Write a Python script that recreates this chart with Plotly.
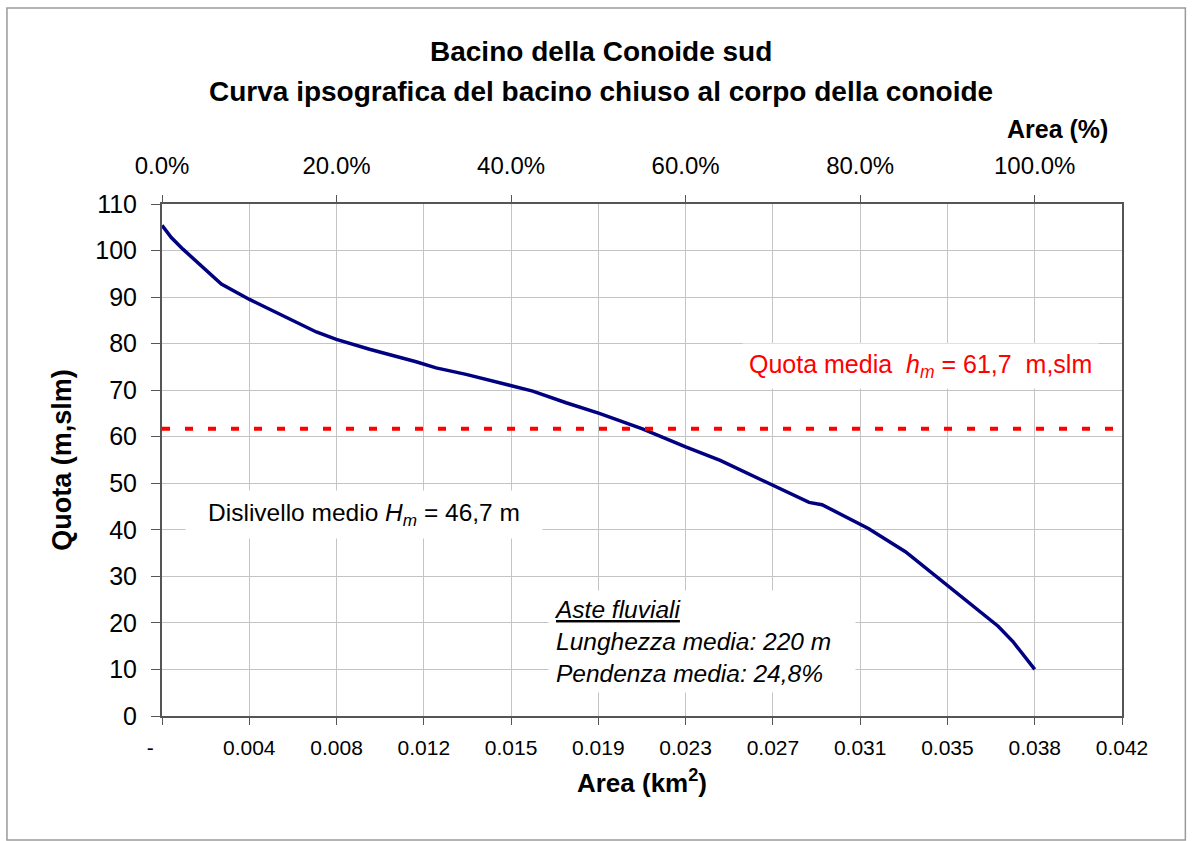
import plotly.graph_objects as go

# ---------------- data ----------------
area_km2 = [0.0, 0.00041, 0.00092, 0.00144, 0.00202, 0.00261, 0.00385, 0.00532,
            0.00679, 0.00767, 0.00913, 0.01118, 0.01206, 0.01338, 0.01536, 0.01631,
            0.01778, 0.01924, 0.02114, 0.02304, 0.02456, 0.02686, 0.02847, 0.02904,
            0.03108, 0.03271, 0.03457, 0.03581, 0.03679, 0.03744, 0.0384]
quota_m = [105.4, 102.8, 100.3, 98.0, 95.3, 92.8, 89.5, 86.0,
           82.5, 80.9, 78.8, 76.1, 74.8, 73.4, 71.0, 69.8,
           67.3, 65.0, 61.7, 57.8, 54.9, 49.5, 45.9, 45.4,
           40.3, 35.3, 28.1, 23.2, 19.3, 16.0, 10.0]
quota_media = 61.7

x_tick_labels = ["-\u00a0\u00a0\u00a0\u00a0", "0.004", "0.008", "0.012", "0.015", "0.019",
                 "0.023", "0.027", "0.031", "0.035", "0.038", "0.042"]
pct_tick_values = [0, 20, 40, 60, 80, 100]
pct_tick_labels = ["0.0%", "20.0%", "40.0%", "60.0%", "80.0%", "100.0%"]
y_tick_values = list(range(0, 111, 10))

# ---------------- derived ----------------
total_area = area_km2[-1]
step = total_area / 10
x_tick_values = [step * i for i in range(len(x_tick_labels))]
area_pct = [a / total_area * 100 for a in area_km2]

FONT = "Liberation Sans, Arial, sans-serif"
AXIS_COL = "#555555"
GRID_COL = "#c4c4c4"

fig = go.Figure()

fig.add_trace(go.Scatter(
    x=area_km2, y=quota_m, mode="lines",
    line=dict(color="#000080", width=3.5),
    showlegend=False, hoverinfo="x+y",
))
# same curve on the percent axis (invisible), so the top axis is attached
fig.add_trace(go.Scatter(
    x=area_pct, y=quota_m, xaxis="x2", mode="lines",
    line=dict(color="rgba(0,0,0,0)", width=0),
    showlegend=False, hoverinfo="skip",
))

fig.update_layout(
    width=1192, height=841,
    paper_bgcolor="white", plot_bgcolor="white",
    margin=dict(l=162, r=70, t=204, b=125),
    font=dict(family=FONT, color="black"),
    xaxis=dict(
        range=[0, step * 11], tickmode="array",
        tickvals=x_tick_values, ticktext=x_tick_labels,
        tickfont=dict(size=21), ticklabelstandoff=5,
        showgrid=True, gridcolor=GRID_COL, gridwidth=1,
        showline=True, linecolor=AXIS_COL, linewidth=2, mirror=True,
        ticks="outside", ticklen=7, tickcolor=AXIS_COL,
        zeroline=False,
        title=dict(text="<b>Area (km<sup>2</sup>)</b>", font=dict(size=26), standoff=16),
    ),
    xaxis2=dict(
        overlaying="x", side="top", anchor="y",
        range=[0, 110], tickmode="array",
        tickvals=pct_tick_values, ticktext=pct_tick_labels,
        tickfont=dict(size=24), ticklabelstandoff=11,
        showgrid=False, showline=False, zeroline=False,
        ticks="outside", ticklen=8, tickcolor=AXIS_COL,
    ),
    yaxis=dict(
        range=[0, 110], tickmode="array", tickvals=y_tick_values,
        tickfont=dict(size=25), ticklabelstandoff=9,
        showgrid=True, gridcolor=GRID_COL, gridwidth=1,
        showline=True, linecolor=AXIS_COL, linewidth=2, mirror=True,
        ticks="outside", ticklen=9, tickcolor=AXIS_COL,
        zeroline=False,
        title=dict(text="<b>Quota (m,slm)</b>", font=dict(size=27), standoff=16),
    ),
)

# mean elevation line
fig.add_shape(type="line", xref="paper", x0=0, x1=1, yref="y",
              y0=quota_media, y1=quota_media,
              line=dict(color="#ff0000", width=4, dash="8px,15px"), layer="above")

# outer chart border
fig.add_shape(type="rect", xref="paper", yref="paper",
              x0=-0.1615, x1=1.066, y0=-0.242, y1=1.383,
              line=dict(color="#9a9a9a", width=1.5), fillcolor="rgba(0,0,0,0)")

ann = []
ann.append(dict(text="<b>Bacino della Conoide sud</b>", x=0.457, y=1.297,
                font=dict(size=28)))
ann.append(dict(text="<b>Curva ipsografica del bacino chiuso al corpo della conoide</b>",
                x=0.457, y=1.219, font=dict(size=28)))
ann.append(dict(text="<b>Area (%)</b>", x=0.988, y=1.146, xanchor="right",
                font=dict(size=25)))
ann.append(dict(text="Quota media  <i>h</i><sub><i>m</i></sub> = 61,7  m,slm",
                x=0.79, y=0.684, font=dict(size=25, color="#ff0000"),
                bgcolor="white", borderpad=6))
ann.append(dict(text="Dislivello medio <i>H</i><sub><i>m</i></sub> = 46,7 m",
                x=0.21, y=0.393, font=dict(size=24.5),
                bgcolor="white", borderpad=8, width=340))
ann.append(dict(text="<i><span style='text-decoration:underline'>Aste fluviali</span></i><br>"
                     "<i>Lunghezza media: 220 m</i><br><i>Pendenza media: 24,8%</i>",
                x=0.402, y=0.145, xanchor="left", align="left",
                font=dict(size=24.5), bgcolor="white", borderpad=5, width=296))
for a in ann:
    a.setdefault("xref", "paper")
    a.setdefault("yref", "paper")
    a.setdefault("showarrow", False)
    a.setdefault("yanchor", "middle")
    a.setdefault("xanchor", "center")
fig.update_layout(annotations=ann)

fig.write_html("out.html", config={"displayModeBar": False},
               post_script="document.body.style.margin='0px';")
